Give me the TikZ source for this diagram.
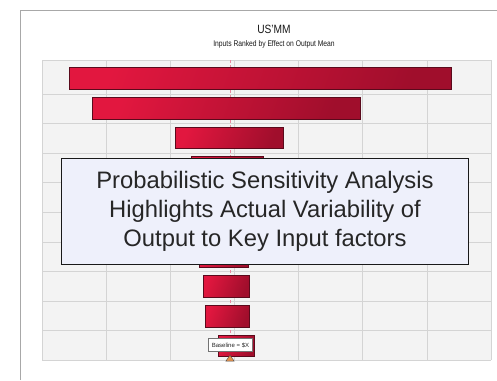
\documentclass[tikz,border=0pt]{standalone}
\usepackage{fontspec}
\setmainfont{Liberation Sans}
\usetikzlibrary{shapes.geometric}
\definecolor{gridc}{HTML}{D4D4D4}
\definecolor{plotbg}{HTML}{F3F3F3}
\definecolor{barlight}{HTML}{E2173F}
\definecolor{bardark}{HTML}{A00E2C}
\definecolor{barline}{HTML}{5A0A1C}
\definecolor{callbg}{HTML}{EEF0FB}
\definecolor{txt}{HTML}{262626}
\definecolor{framec}{HTML}{A8A8A8}
\definecolor{basec}{HTML}{E88AA0}
\definecolor{tric}{HTML}{E8944C}
\tikzset{
  bar/.style={draw=barline, line width=0.8pt, left color=barlight, right color=bardark, shading angle=70, inner sep=0pt, outer sep=0pt, anchor=north west},
  callout/.style={draw=black!90, line width=1.6pt, fill=callbg, inner sep=0pt, minimum width=407pt, minimum height=106pt, align=center, text=txt, font=\fontsize{23.8}{29}\selectfont},
  baselbl/.style={draw=black!55, fill=white, line width=0.5pt, inner sep=1.2pt, minimum width=44pt, minimum height=13pt, font=\fontsize{6}{7}\selectfont, text=txt},
  gridl/.style={draw=gridc, line width=0.9pt},
}
\begin{document}
\begin{tikzpicture}[x=1pt,y=-1pt]
\useasboundingbox (0,0) rectangle (497,380);
\fill[white] (0,0) rectangle (497,380);
% outer frame
\draw[framec, line width=1pt] (20,380) -- (20,10) -- (497,10);
% titles
\node[font=\fontsize{12}{13}\selectfont, text=black!90, xscale=0.85, transform shape] (title) at (274,29) {US'MM};
\node[font=\fontsize{8.2}{9}\selectfont, text=black!90, xscale=0.82, transform shape] (subtitle) at (274,44.5) {Inputs Ranked by Effect on Output Mean};
% plot area
\fill[plotbg] (42,60) rectangle (491,360);
\foreach \x in {42,106,170,234,298,362,427,491} \draw[gridl] (\x,60) -- (\x,360);
\foreach \y in {60,94,123.6,153.2,182.8,212.4,242,271.6,301.2,330.8,360} \draw[gridl] (42,\y) -- (491,\y);
% baseline dashed
\draw[basec, line width=0.8pt, dash pattern=on 3pt off 2pt] (230,60) -- (230,356);
% bars
\node[bar, minimum width=382pt, minimum height=22pt] (b1) at (69,67) {};
\node[bar, minimum width=268pt, minimum height=22pt] (b2) at (92,97) {};
\node[bar, minimum width=108pt, minimum height=21pt] (b3) at (175,127) {};
\node[bar, minimum width=72pt, minimum height=21pt] (b4) at (191,156) {};
\node[bar, minimum width=64pt, minimum height=21pt] (b5) at (195,186) {};
\node[bar, minimum width=56pt, minimum height=21pt] (b6) at (197,216) {};
\node[bar, minimum width=49pt, minimum height=21pt] (b7) at (199,246) {};
\node[bar, minimum width=46pt, minimum height=22pt] (b8) at (203,275) {};
\node[bar, minimum width=44pt, minimum height=22pt] (b9) at (205,305) {};
\node[bar, minimum width=36pt, minimum height=21pt] (b10) at (218,335) {};
% baseline label
\node[baselbl] (base) at (230.5,345) {Baseline = \$X};
% triangle marker
\node[isosceles triangle, isosceles triangle apex angle=70, shape border rotate=90, fill=tric, draw=black!70, line width=0.4pt, inner sep=0pt, minimum height=6pt, minimum width=7pt] (tri) at (230,359) {};
% callout
\node[callout] (call) at (265,211.5) {Probabilistic Sensitivity Analysis\\Highlights Actual Variability of\\Output to Key Input factors};
\end{tikzpicture}
\end{document}
